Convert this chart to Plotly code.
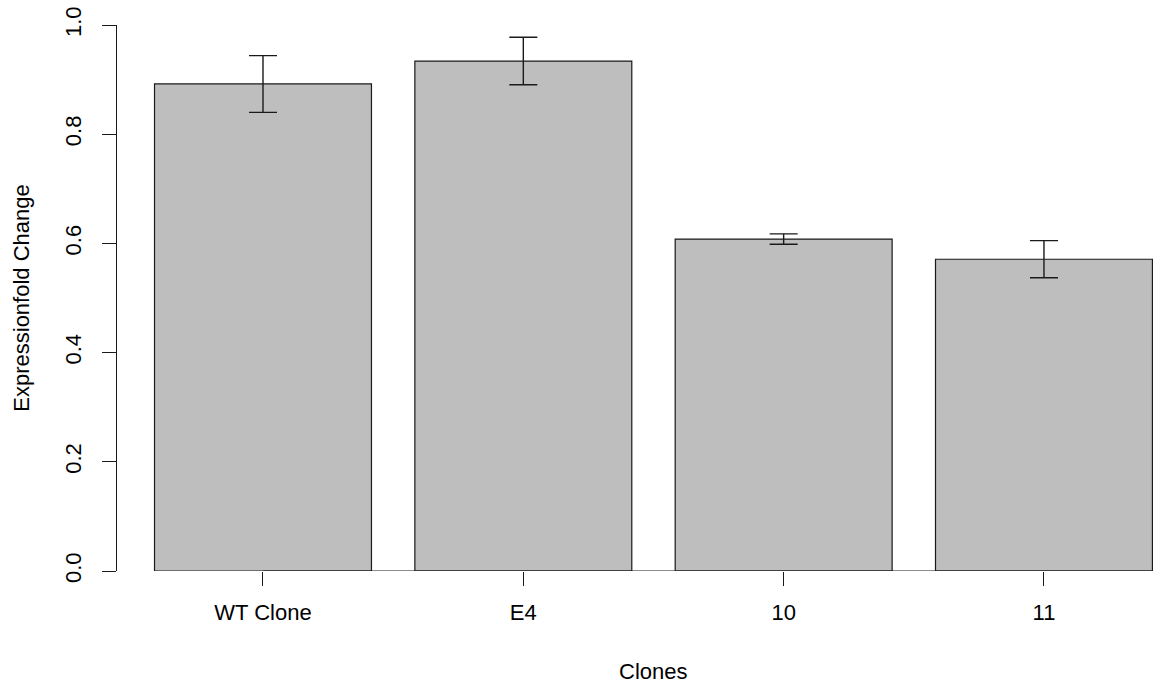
import plotly.graph_objects as go

clones = ["WT Clone", "E4", "10", "11"]
fold_change = [0.892, 0.934, 0.608, 0.571]
errors = [0.052, 0.0435, 0.0095, 0.034]
y_ticks = [0.0, 0.2, 0.4, 0.6, 0.8, 1.0]
y_tick_text = ["0.0", "0.2", "0.4", "0.6", "0.8", "1.0"]

FONT = "Liberation Sans, Arial, sans-serif"
FS = 22

fig = go.Figure()
fig.add_trace(go.Bar(
    x=clones, y=fold_change,
    marker=dict(color="#BEBEBE", line=dict(color="#1a1a1a", width=1.2)),
    error_y=dict(type="data", array=errors, visible=True,
                 color="#1a1a1a", thickness=1.4, width=14),
    showlegend=False,
))

# x axis line from first to last tick (R style)
fig.add_shape(type="line", xref="x", yref="y", x0=clones[0], x1=clones[-1],
              y0=0, y1=0, line=dict(color="#1a1a1a", width=1.2))

fig.add_annotation(text="Clones", xref="x", yref="paper", x=1.5, y=0,
                   yanchor="middle", yshift=-100, showarrow=False,
                   font=dict(family=FONT, size=FS, color="black"))

fig.update_layout(
    width=1153, height=683,
    margin=dict(l=117, r=0, t=25, b=112),
    paper_bgcolor="white", plot_bgcolor="white",
    bargap=1/6,
    font=dict(family=FONT, size=FS, color="black"),
    xaxis=dict(range=[-0.5608, 3.4188], showline=False, showgrid=False,
               zeroline=False, ticks="outside", ticklen=14, tickwidth=1.2,
               tickcolor="#1a1a1a", ticklabelstandoff=8,
               tickfont=dict(family=FONT, size=FS, color="black")),
    yaxis=dict(range=[0, 1], tickvals=y_ticks, ticktext=y_tick_text,
               showline=True, linecolor="#1a1a1a", linewidth=1.2,
               showgrid=False, zeroline=False, ticks="outside", ticklen=14,
               tickwidth=1.2, tickcolor="#1a1a1a", tickangle=-90,
               ticklabelstandoff=12,
               tickfont=dict(family=FONT, size=FS, color="black"),
               title=dict(text="Expressionfold Change", standoff=25,
                          font=dict(family=FONT, size=FS, color="black"))),
)

fig.write_html("out.html", config={"displayModeBar": False},
               post_script="document.body.style.margin='0';document.body.style.overflow='hidden';")
